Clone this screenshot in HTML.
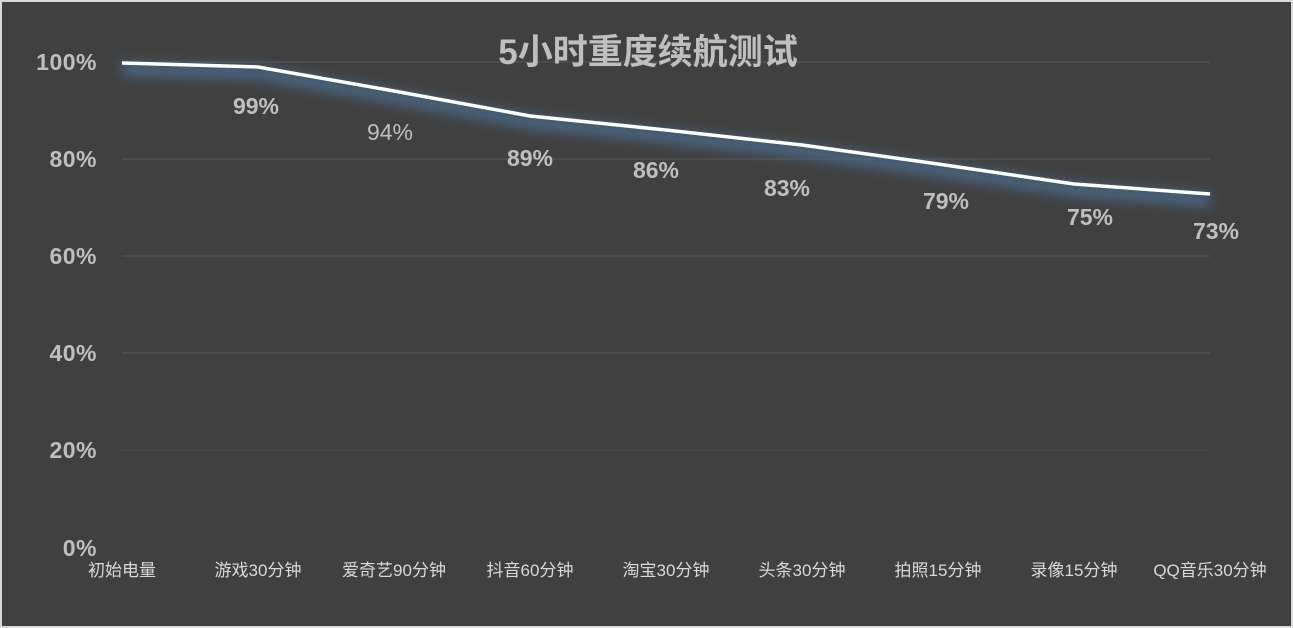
<!DOCTYPE html><html><head><meta charset="utf-8"><style>
body{margin:0;background:#fff;}
svg{display:block}
</style></head><body>
<svg width="1293" height="628" xmlns="http://www.w3.org/2000/svg" font-family="'Liberation Sans','Noto Sans CJK SC',sans-serif">
<defs><filter id="g" x="-10%" y="-50%" width="120%" height="200%"><feGaussianBlur stdDeviation="6"/></filter></defs>
<rect x="0" y="0" width="1293" height="628" fill="#d9d9d9"/>
<rect x="2" y="2" width="1289" height="624" fill="#404040"/>
<g stroke="#595959" stroke-width="1">
<line x1="122" y1="62" x2="1210" y2="62"/><line x1="122" y1="159" x2="1210" y2="159"/><line x1="122" y1="256" x2="1210" y2="256"/><line x1="122" y1="353" x2="1210" y2="353"/><line x1="122" y1="450" x2="1210" y2="450" stroke="#4a4a4a"/>
</g>
<g fill="#bfbfbf" font-weight="bold" font-size="23" text-anchor="end" letter-spacing="0.5">
<text x="97" y="70">100%</text><text x="97" y="167">80%</text><text x="97" y="264">60%</text><text x="97" y="361">40%</text><text x="97" y="458">20%</text><text x="97" y="556">0%</text>
</g>
<text x="648" y="64" text-anchor="middle" fill="#bfbfbf" font-weight="bold" font-size="35">5小时重度续航测试</text>
<polyline points="122,63 258,67 394,91 530,116 666,130 802,145 938,164 1074,184 1210,194" fill="none" stroke="#4a6a8a" stroke-width="12" filter="url(#g)" transform="translate(0,6)"/>
<polyline points="122,63 258,67 394,91 530,116 666,130 802,145 938,164 1074,184 1210,194" fill="none" stroke="#fff" stroke-width="3.5"/>
<g fill="#bfbfbf" font-weight="bold" font-size="23" text-anchor="middle">
<text x="256" y="114">99%</text><text x="390" y="140" font-weight="normal">94%</text><text x="530" y="166">89%</text><text x="656" y="178">86%</text><text x="787" y="196">83%</text><text x="946" y="209">79%</text><text x="1090" y="225">75%</text><text x="1216" y="239">73%</text>
</g>
<g fill="#d9d9d9" font-size="17" text-anchor="middle">
<text x="122" y="576">初始电量</text><text x="258" y="576">游戏30分钟</text><text x="394" y="576">爱奇艺90分钟</text><text x="530" y="576">抖音60分钟</text><text x="666" y="576">淘宝30分钟</text><text x="802" y="576">头条30分钟</text><text x="938" y="576">拍照15分钟</text><text x="1074" y="576">录像15分钟</text><text x="1210" y="576">QQ音乐30分钟</text>
</g>
</svg>
</body></html>
